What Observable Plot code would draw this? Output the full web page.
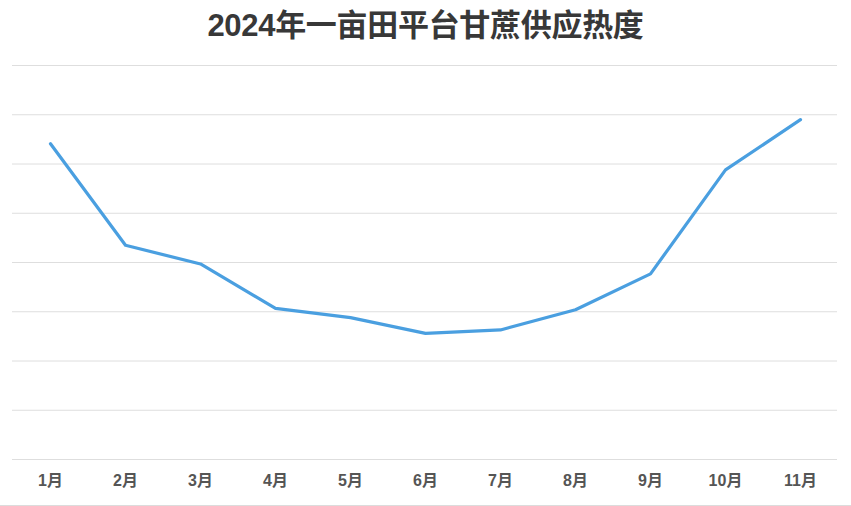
<!DOCTYPE html>
<html>
<head>
<meta charset="utf-8">
<script src="https://cdn.jsdelivr.net/npm/d3@7"></script>
<script src="https://cdn.jsdelivr.net/npm/@observablehq/plot@0.6"></script>
<style>
  html, body { margin: 0; padding: 0; background: #fff; }
  #wrap { width: 851px; height: 505px; border-bottom: 1px solid #dcdcdc; overflow: hidden; }
  #title { height: 50px; line-height: 52px; text-align: center; font-family: "Liberation Sans", "Noto Sans CJK SC", sans-serif; font-weight: bold; font-size: 31px; color: #383838; letter-spacing: -0.3px; }
  #chart svg { display: block; }
</style>
</head>
<body>
<div id="wrap">
  <div id="title">2024年一亩田平台甘蔗供应热度</div>
  <div id="chart"></div>
</div>
<script>
const months = ["1月","2月","3月","4月","5月","6月","7月","8月","9月","10月","11月"];
const heat = [64.1, 43.5, 39.7, 30.7, 28.8, 25.6, 26.3, 30.4, 37.7, 58.8, 69.0];
const yTicks = [0, 10, 20, 30, 40, 50, 60, 70, 80];

const data = months.map((m, i) => ({month: m, value: heat[i]}));

const chart = Plot.plot({
  width: 851,
  height: 455,
  marginTop: 15,
  marginBottom: 46,
  marginLeft: 12,
  marginRight: 14,
  style: {fontFamily: "Liberation Sans, Noto Sans CJK SC, sans-serif", background: "#fff"},
  x: {type: "point", domain: months, padding: 0.5, label: null},
  y: {domain: [0, 80], ticks: yTicks, label: null, axis: null},
  marks: [
    Plot.gridY(yTicks, {stroke: "#dedede", strokeOpacity: 1, strokeWidth: 1}),
    Plot.axisX({tickSize: 0, tickPadding: 15, fontSize: 16, fontWeight: "bold", color: "#555", label: null}),
    Plot.line(data, {x: "month", y: "value", stroke: "#4a9fe0", strokeWidth: 3.2, strokeLinejoin: "round", strokeLinecap: "round"})
  ]
});
document.getElementById("chart").appendChild(chart);
</script>
</body>
</html>
